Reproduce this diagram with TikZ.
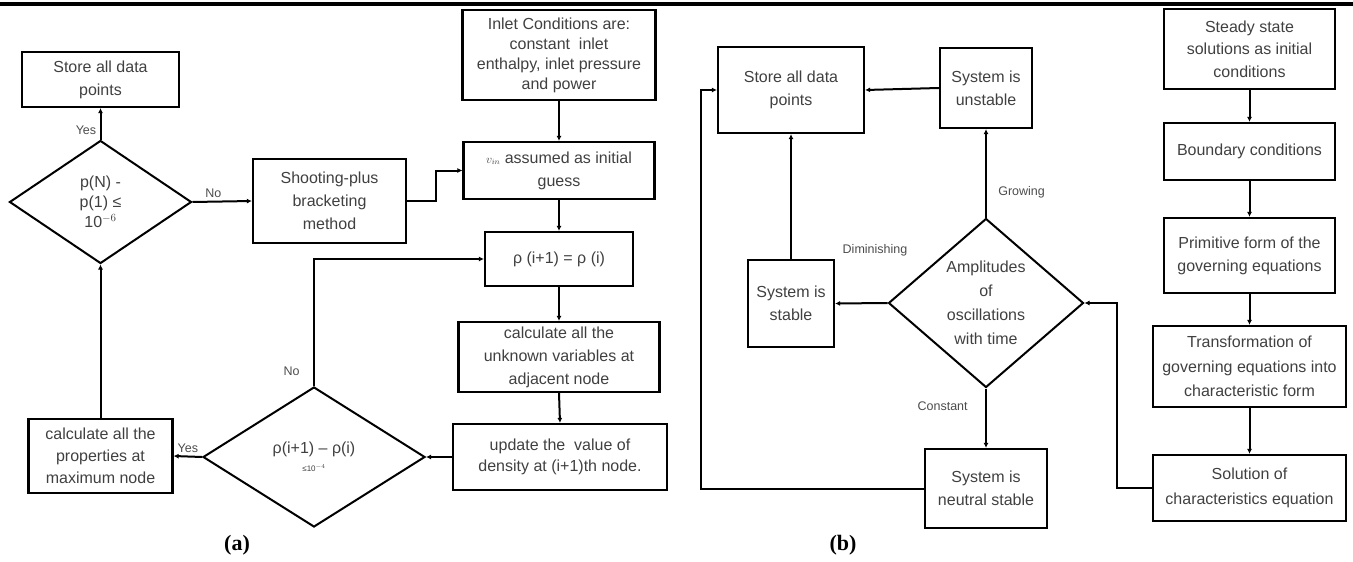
\documentclass[tikz,border=0pt]{standalone}
\usepackage{fontspec}
\setmainfont{Liberation Sans}
\newfontfamily\capfont{Liberation Serif}
\usetikzlibrary{shapes.geometric,arrows.meta,positioning}

\begin{document}
\begin{tikzpicture}[x=1pt,y=-1pt,
  box/.style={draw, line width=2.2pt, align=center, inner sep=2pt, text=black!75, font=\fontsize{16}{23}\selectfont},
  choice/.style={draw, diamond, line width=2pt, align=center, inner sep=0pt, text=black!75, font=\fontsize{16}{24}\selectfont},
  lbl/.style={text=black!70, font=\fontsize{12.5}{14}\selectfont},
  flow/.style={line width=2pt, -{Latex[length=5pt,width=5pt]}},
  caption/.style={font=\capfont\bfseries\fontsize{22}{24}\selectfont}]
 \useasboundingbox (0,0) rectangle (1353,562);

    % header rule
    \fill[black] (0,1.5) rectangle (1353,6);

    % (a) shooting method
    \node[box, minimum width=157pt, minimum height=55pt] (storeA) at (100.5,79.5) {Store all data\\points};
    \node[choice, minimum width=182pt, minimum height=123pt, font=\fontsize{16}{20}\selectfont] (diaN) at (100.5,202) {p(N) -\\p(1) ≤\\10$^{-6}$};
    \node[box, minimum width=153pt, minimum height=84pt] (shoot) at (329.5,201) {Shooting-plus\\bracketing\\method};
    \node[box, minimum width=193pt, minimum height=90pt, font=\fontsize{16}{20}\selectfont] (inlet) at (559,55) {Inlet Conditions are:\\constant\ \ inlet\\enthalpy, inlet pressure\\and power};
    \node[box, minimum width=191pt, minimum height=57pt] (guess) at (559,170.5) {{\fontsize{12}{12}\selectfont$v_{in}$} assumed as initial\\guess};
    \node[box, minimum width=148pt, minimum height=54pt] (rho) at (559,259) {ρ (i+1) = ρ (i)};
    \node[box, minimum width=201pt, minimum height=70pt] (calcA) at (559,357) {calculate all the\\unknown variables at\\adjacent node};
    \node[box, minimum width=214pt, minimum height=66pt, font=\fontsize{16}{21}\selectfont] (update) at (560,457) {update the\ \ value of\\density at (i+1)th node.};
    \node[choice, minimum width=222pt, minimum height=140pt] (diaRho) at (314,457) {ρ(i+1) – ρ(i)\\[-6pt]{\fontsize{8}{9}\selectfont ≤10$^{-4}$}};
    \node[box, minimum width=144pt, minimum height=74pt, font=\fontsize{16}{22}\selectfont] (props) at (100.5,456) {calculate all the\\properties at\\maximum node};

    \draw[flow] (diaN.north) -- (storeA.south) node[lbl, pos=0.3, left] {Yes};
    \draw[flow] (diaN.east) -- (shoot.west) node[lbl, pos=0.35, above] {No};
    \draw[flow] (shoot.east) -- ++(29,0) |- (guess.west);
    \draw[flow] (inlet.south) -- (guess.north);
    \draw[flow] (guess.south) -- (rho.north);
    \draw[flow] (rho.south) -- (calcA.north);
    \draw[flow] (calcA.south) -- (update.north);
    \draw[flow] (update.west) -- (diaRho.east);
    \draw[flow] (diaRho.north) |- (rho.west) node[lbl, pos=0.06, left=10pt] {No};
    \draw[flow] (diaRho.west) -- (props.east) node[lbl, midway, above] {Yes};
    \draw[flow] (props.north) -- (diaN.south);

    % (b) stability analysis
    \node[box, minimum width=146pt, minimum height=86pt] (storeB) at (791,90) {Store all data\\points};
    \node[box, minimum width=92pt, minimum height=80pt] (unstable) at (986,88) {System is\\unstable};
    \node[choice, minimum width=195pt, minimum height=169pt] (amp) at (986,303) {Amplitudes\\of\\oscillations\\with time};
    \node[box, minimum width=86pt, minimum height=87pt] (stable) at (791,303.5) {System is\\stable};
    \node[box, minimum width=122pt, minimum height=79pt] (neutral) at (986,488.5) {System is\\neutral stable};
    \node[box, minimum width=171pt, minimum height=80pt, font=\fontsize{16}{22.5}\selectfont] (steady) at (1249.5,49) {Steady state\\solutions as initial\\conditions};
    \node[box, minimum width=171pt, minimum height=57pt] (bound) at (1249.5,151.5) {Boundary conditions};
    \node[box, minimum width=171pt, minimum height=75pt] (prim) at (1249.5,255.5) {Primitive form of the\\governing equations};
    \node[box, minimum width=193pt, minimum height=81pt, font=\fontsize{16}{24.5}\selectfont] (trans) at (1249.5,366.5) {Transformation of\\governing equations into\\characteristic form};
    \node[box, minimum width=193pt, minimum height=66pt, font=\fontsize{16}{25}\selectfont] (sol) at (1249.5,488) {Solution of\\characteristics equation};
    \node[lbl] (dimLbl) at (875,250) {Diminishing};

    \draw[flow] (steady.south) -- (bound.north);
    \draw[flow] (bound.south) -- (prim.north);
    \draw[flow] (prim.south) -- (trans.north);
    \draw[flow] (trans.south) -- (sol.north);
    \draw[flow] (sol.west) -- ++(-35,0) |- (amp.east);
    \draw[flow] (amp.north) -- (unstable.south) node[lbl, pos=0.28, right=8pt] {Growing};
    \draw[flow] (unstable.west) -- (storeB.east);
    \draw[flow] (amp.west) -- (stable.east);
    \draw[flow] (stable.north) -- (storeB.south);
    \draw[flow] (amp.south) -- (neutral.north) node[lbl, pos=0.29, left=14pt] {Constant};
    \draw[flow] (neutral.west) -- ++(-223,0) |- (storeB.west);

    % captions
    \node[caption] (capA) at (237,545) {(a)};
    \node[caption] (capB) at (843,545) {(b)};
\end{tikzpicture}
\end{document}
